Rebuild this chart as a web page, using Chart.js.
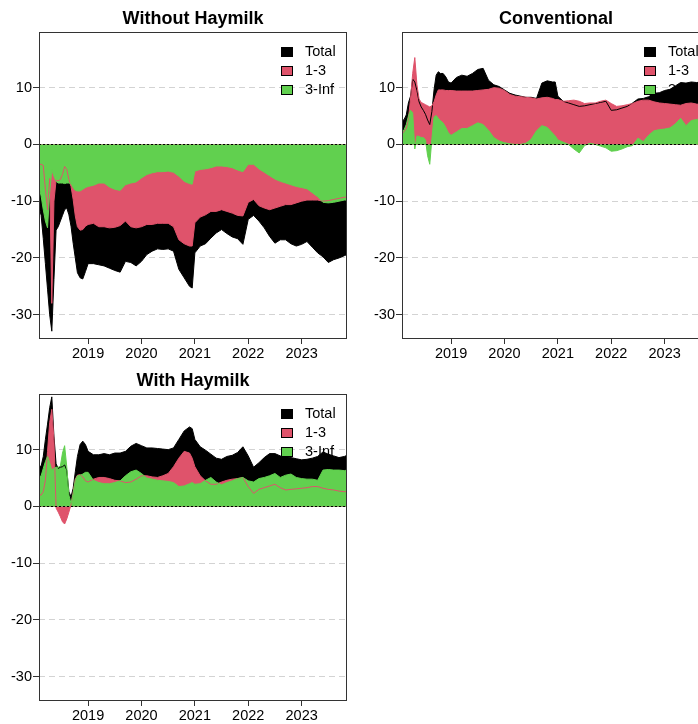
<!DOCTYPE html>
<html>
<head>
<meta charset="utf-8">
<script src="https://cdn.jsdelivr.net/npm/chart.js@4.4.1/dist/chart.umd.min.js"></script>
<style>
  html, body { margin: 0; padding: 0; background: #fff; overflow: hidden; }
  body { width: 698px; height: 724px; position: relative; }
  canvas { position: absolute; }
</style>
</head>
<body>
<canvas id="c1" width="363" height="362" style="left:0;top:0"></canvas>
<canvas id="c2" width="363" height="362" style="left:363px;top:0"></canvas>
<canvas id="c3" width="363" height="362" style="left:0;top:362px"></canvas>
<script>
// decimal years, finer steps in 2018 where the spikes are
const dates = [2018.08, 2018.12, 2018.16, 2018.20, 2018.24, 2018.28, 2018.32, 2018.36, 2018.40, 2018.44, 2018.48, 2018.52, 2018.56, 2018.60, 2018.64, 2018.68, 2018.72, 2018.76, 2018.80, 2018.85, 2018.90, 2018.95,
  2019.0, 2019.1, 2019.2, 2019.3, 2019.4, 2019.5, 2019.6, 2019.7, 2019.8, 2019.9,
  2020.0, 2020.1, 2020.2, 2020.3, 2020.4, 2020.5, 2020.6, 2020.7, 2020.8, 2020.9, 2020.95,
  2021.0, 2021.1, 2021.2, 2021.3, 2021.4, 2021.5, 2021.6, 2021.7, 2021.8, 2021.9,
  2022.0, 2022.1, 2022.2, 2022.3, 2022.4, 2022.5, 2022.6, 2022.7, 2022.8, 2022.9,
  2023.0, 2023.1, 2023.2, 2023.3, 2023.4, 2023.5, 2023.6, 2023.7, 2023.8, 2023.85];

const xTicks = [2019, 2020, 2021, 2022, 2023];
const yTicks = [-30, -20, -10, 0, 10];
const seriesNames = ['Total', '1-3', '3-Inf'];
const seriesColors = ['#000000', '#DF536B', '#61D04F'];

// Without Haymilk
const withoutTotal = [-11, -12.5, -16.6, -21, -25.5, -30, -32.9, -23.8, -15.1, -14.5, -13.5, -12.5, -11.5, -11.2, -12.4, -14.4, -17.4, -20, -22.6, -23.5, -23.7, -22.4,
  -21, -21, -21.2, -21.4, -21.8, -22.2, -22.5, -20.6, -20.8, -21.4,
  -20.6, -19.4, -18.8, -18.4, -18.5, -18.4, -18.8, -22, -23.5, -25, -25.3,
  -19.1, -17.9, -17.5, -16.5, -15.6, -15, -15.7, -16.3, -16.6, -17.6,
  -13.2, -12.5, -13.5, -14.7, -16.2, -17.4, -16.8, -16.8, -17.5, -17.9,
  -17.6, -17.1, -18.1, -19.1, -19.8, -20.8, -20.3, -20, -19.6, -19.4];
const without13 = [-3.5, -3.5, -3.7, -7.9, -11.5, -6, -28, -10, -6.3, -6.4, -6.2, -5.3, -3.9, -4.4, -6.2, -7.4, -9.7, -12.6, -14.5, -15.1, -15, -14.4,
  -14.1, -13.9, -14.5, -14.5, -14.7, -14.6, -14.3, -13.5, -14.5, -14.7,
  -14.5, -14.1, -14.1, -13.9, -13.9, -13.9, -14.5, -16.8, -17.5, -17.9, -17.9,
  -13.8, -12.8, -12.4, -11.8, -11.8, -11.5, -11.8, -12.1, -12.5, -12.6,
  -10.2, -9.7, -10.8, -11.2, -11.5, -11.2, -10.9, -10.6, -10.6, -10.3,
  -10, -9.8, -9.8, -9.8, -10, -9.9, -9.7, -9.5, -9.3, -9.3];
const without3Inf = [-7.4, -9.1, -11.5, -13.5, -14.7, -8.5, -4.5, -5.6, -6.5, -6.8, -6.8, -6.8, -6.9, -6.8, -6.8, -6.9, -7.6, -8.1, -8.2, -8.2, -7.9, -7.6,
  -7.4, -7.2, -6.8, -6.8, -7.5, -7.9, -8.1, -7.1, -6.8, -6.6,
  -5.9, -5.3, -5, -4.8, -4.8, -4.7, -4.9, -5.6, -6.5, -6.9, -7,
  -4.7, -4.4, -4.3, -4.1, -3.8, -3.8, -3.9, -4.1, -4.5, -4.8,
  -3.5, -3.5, -4.3, -4.9, -5.5, -6.1, -6.5, -6.8, -7.1, -7.4,
  -7.6, -7.8, -8.5, -9.2, -10.2, -10.3, -10.2, -10, -9.8, -9.8];

// Conventional
const convTotal = [4.1, 4.4, 5.2, 7.3, 8.5, 11.5, 11, 9.5, 7.5, 6.6, 6, 5.3, 4.3, 3.5, 5.8, 9.6, 12.2, 12.8, 12.5, 12.5, 11.9, 11,
  10.8, 11.8, 12.2, 12, 12.5, 13.2, 13.4, 11.3, 10.5, 10.2,
  9.6, 9, 8.7, 8.5, 8.3, 8.3, 8.1, 10.8, 11.2, 11, 11,
  8.5, 7.6, 7.3, 7, 6.7, 6.8, 7, 7.2, 7.4, 7.6,
  6, 6.1, 6.4, 6.7, 7.3, 8, 8.1, 8.4, 9, 9.1,
  9.5, 9.7, 10.3, 10.9, 10.8, 11, 10.9, 11, 11.2, 11.2];
const conv13 = [1.8, 2.3, 2.8, 4.5, 8, 12.5, 15.3, 10.5, 8, 7.4, 7.2, 7, 6.8, 6.6, 6.8, 7.5, 8.7, 9.6, 9.6, 9.6, 9.5, 9.5,
  9.5, 9.4, 9.4, 9.4, 9.4, 9.5, 9.6, 9.7, 10, 9.9,
  9.5, 8.8, 8.5, 8.4, 8.3, 8.2, 8, 8.2, 8.3, 8.1, 7.9,
  7.9, 7.6, 7.7, 7.8, 7.6, 7.2, 7.3, 7.3, 7.6, 7.8,
  7.2, 6.7, 6.8, 7, 7.2, 7.6, 7.8, 7.8, 7.5, 7.3,
  7.2, 7.1, 7, 6.9, 7.2, 7.3, 7.1, 7, 7, 7];
const conv3Inf = [2.1, 2.6, 3.5, 5, 6, 5.6, -0.8, 1.5, 1.4, 1.2, 1.2, 0.8, -2, -3.5, 1, 4.8, 5.1, 4.6, 4.2, 3.8, 3, 2,
  1.6, 2.2, 2.8, 2.8, 3.3, 3.8, 3.5, 2.5, 1.2, 0.6,
  0.3, 0.1, 0, 0, 0.2, 0.9, 2.4, 3.3, 3, 2, 1.5,
  0.8, 0.4, 0, -0.8, -1.5, -0.2, 0.2, 0, -0.3, -0.6,
  -1.2, -1.1, -0.8, -0.4, -0.2, 1.1, 0.5, 1.6, 2.4, 2.6,
  2.7, 2.9, 3.6, 4.6, 3.3, 4.2, 4.4, 4.5, 4.6, 4.6];

// With Haymilk
const withTotal = [7, 7.1, 8.8, 11.8, 14.5, 17.4, 19.3, 12.4, 7.5, 6.7, 6.9, 7, 7.3, 6.4, 2.6, 1.7, 3.2, 6.1, 8.8, 10.9, 11.5, 10.9,
  9.7, 9.1, 9.1, 9.3, 9.1, 9.4, 9.4, 9.7, 10.6, 11.1,
  10.7, 10.3, 10.3, 10.2, 10.1, 10, 10.3, 11.8, 13.3, 14, 13.7,
  11.8, 10.5, 9.9, 9.2, 8.5, 8.3, 8.8, 9, 9.5, 10.5,
  8.9, 6.9, 7.7, 8.6, 9.3, 9.3, 8.9, 8.8, 8.6, 8.4,
  8.2, 8.3, 8.5, 8.8, 9.6, 9.2, 8.9, 8.6, 8.8, 9];
const with13 = [2, 2, 2.6, 4.6, 9.7, 14.8, 17.1, 11.8, -0.3, -1, -1.8, -2.7, -3.1, -2.2, -1, 0.3, 2.5, 4.8, 5.5, 5.6, 5.2, 4.5,
  4.3, 4.8, 5.1, 5.1, 4.9, 4.6, 4.5, 4.2, 4.3, 4.8,
  5.4, 5.4, 5.2, 5.1, 5.4, 5.8, 7, 8.5, 9.7, 9.4, 8.5,
  7, 5.4, 4.5, 3.9, 3.9, 4.3, 4.6, 4.8, 4.9, 5.1,
  3.5, 2.3, 3, 3.3, 3.6, 3.9, 3.3, 2.9, 3, 3.1,
  3.2, 3.3, 3.5, 3.5, 3.2, 3, 2.9, 2.7, 2.6, 2.6];
const with3Inf = [5.1, 5.4, 6.7, 7.9, 8.8, 7.7, 6.4, 6.7, 6.9, 6.9, 7.1, 9.4, 10.7, 7, 2, 0.5, 2.3, 4.6, 5.4, 5.5, 5.7, 6,
  6, 4.6, 4.2, 4, 4, 4.2, 4.5, 5.4, 6.1, 6.4,
  5.8, 5, 4.8, 4.6, 4.5, 4.4, 4.2, 3.5, 3.6, 4, 4.2,
  3.9, 4, 4.6, 5.1, 4.3, 3.8, 4.2, 4.5, 4.9, 5.1,
  4.5, 4.3, 4.9, 5.1, 5.4, 5.8, 5.1, 5.5, 5.7, 5.1,
  4.9, 4.8, 4.8, 4.6, 6.4, 6.5, 6.4, 6.4, 6.3, 6.4];

Chart.defaults.font.family = '"Liberation Sans", Arial, sans-serif';
Chart.defaults.font.size = 14.5;
Chart.defaults.color = '#000';

// box, dotted zero line and the in-plot legend, like base R
const panelDecor = {
  id: 'panelDecor',
  afterDatasetsDraw(chart) {
    const ctx = chart.ctx, a = chart.chartArea;
    const y0 = Math.round(chart.scales.y.getPixelForValue(0)) + 0.5;
    ctx.save();
    ctx.strokeStyle = '#000';
    ctx.lineWidth = 1;
    ctx.setLineDash([2, 2]);
    ctx.beginPath();
    ctx.moveTo(a.left, y0);
    ctx.lineTo(a.right, y0);
    ctx.stroke();
    ctx.restore();
  },
  afterDraw(chart) {
    const ctx = chart.ctx, a = chart.chartArea;
    ctx.save();
    ctx.strokeStyle = '#333';
    ctx.lineWidth = 1;
    ctx.strokeRect(Math.round(a.left) + 0.5, Math.round(a.top) + 0.5,
      Math.round(a.right - a.left) - 1, Math.round(a.bottom - a.top));

    // legend
    const bx = Math.round(a.right) - 66;
    ctx.font = '14.5px "Liberation Sans", Arial, sans-serif';
    ctx.textBaseline = 'middle';
    seriesNames.forEach((name, i) => {
      const cy = Math.round(a.top) + 20 + i * 19;
      ctx.fillStyle = seriesColors[i];
      ctx.fillRect(bx, cy - 5, 12, 10);
      ctx.strokeStyle = '#000';
      ctx.strokeRect(bx + 0.5, cy - 4.5, 11, 9);
      ctx.fillStyle = '#000';
      ctx.fillText(name, bx + 24, cy);
    });
    ctx.restore();
  }
};

function makePanel(id, title, total, low, high) {
  const vals = [total, low, high];
  // draw order: Total first, then 1-3, then 3-Inf on top
  const datasets = [2, 1, 0].map(i => ({
    label: seriesNames[i],
    data: dates.map((d, k) => ({ x: d, y: vals[i][k] })),
    borderColor: seriesColors[i],
    backgroundColor: seriesColors[i],
    borderWidth: 1,
    pointRadius: 0,
    tension: 0,
    fill: 'origin',
  }));

  new Chart(document.getElementById(id), {
    type: 'line',
    data: { datasets: datasets },
    options: {
      responsive: false,
      animation: false,
      events: [],
      layout: { padding: { left: 0, right: 16, top: 0, bottom: 0 } },
      scales: {
        x: {
          type: 'linear',
          min: 2018.08,
          max: 2023.85,
          afterBuildTicks: (axis) => { axis.ticks = xTicks.map(v => ({ value: v })); },
          afterFit: (axis) => { axis.height = 24; },
          border: { display: false },
          grid: { drawOnChartArea: false, drawTicks: true, tickLength: 6, tickColor: '#333' },
          ticks: { callback: (v) => String(v), padding: 1, maxRotation: 0, autoSkip: false, color: '#000' },
        },
        y: {
          type: 'linear',
          min: -34.1,
          max: 19.75,
          afterBuildTicks: (axis) => { axis.ticks = yTicks.map(v => ({ value: v })); },
          afterFit: (axis) => { axis.width = 39; },
          border: { display: false, dash: [6, 4] },
          grid: {
            color: (c) => (c.tick && c.tick.value === 0 ? 'rgba(0,0,0,0)' : '#d3d3d3'),
            lineWidth: 1,
            drawTicks: true,
            tickLength: 6,
            tickColor: '#333',
          },
          ticks: { callback: (v) => String(v), padding: 1, color: '#000' },
        },
      },
      plugins: {
        filler: { drawTime: 'beforeDatasetsDraw' },
        legend: { display: false },
        tooltip: { enabled: false },
        title: {
          display: true,
          text: title,
          fullSize: false,
          color: '#000',
          font: { size: 18, weight: 'bold' },
          padding: { top: 8.5, bottom: 2.2 },
        },
      },
    },
    plugins: [panelDecor],
  });
}

makePanel('c1', 'Without Haymilk', withoutTotal, without13, without3Inf);
makePanel('c2', 'Conventional', convTotal, conv13, conv3Inf);
makePanel('c3', 'With Haymilk', withTotal, with13, with3Inf);
</script>
</body>
</html>
